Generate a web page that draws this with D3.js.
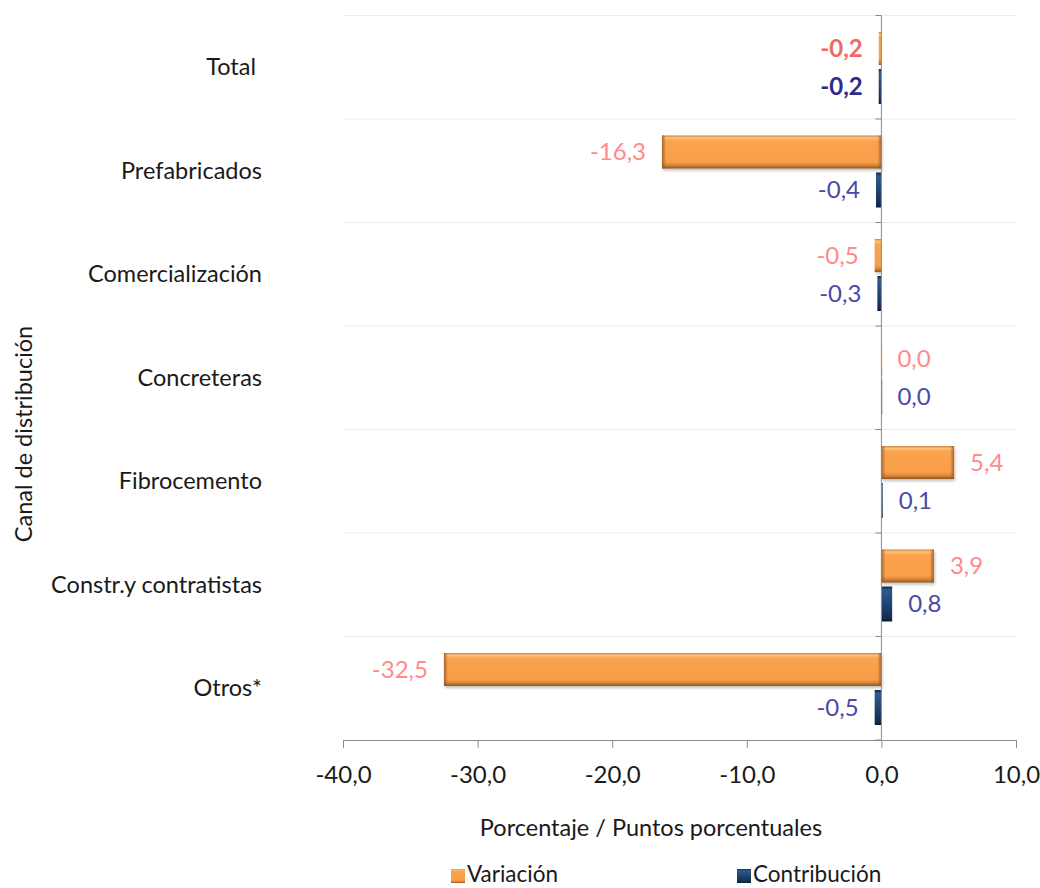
<!DOCTYPE html>
<html><head><meta charset="utf-8">
<script src="https://cdn.jsdelivr.net/npm/d3@7/dist/d3.min.js"></script>
<style>body{margin:0;background:#fff}svg{display:block}text{font-family:Lato,"Open Sans",sans-serif}</style>
</head><body>
<svg id="c" width="1040" height="888"></svg>
<script>
const categories = ["Total ", "Prefabricados", "Comercialización", "Concreteras", "Fibrocemento", "Constr.y contratistas", "Otros*"];
const variacion = [-0.2, -16.3, -0.5, 0.0, 5.4, 3.9, -32.5];
const contribucion = [-0.2, -0.4, -0.3, 0.0, 0.1, 0.8, -0.5];
const xTicks = [-40, -30, -20, -10, 0, 10];
const seriesNames = ["Variación", "Contribución"];

const svg = d3.select("#c");
const L = 343, R = 1016, T = 15.5, B = 740;
const FS = 23.5, NS = 24;
const x = d3.scaleLinear().domain([-40, 10]).range([L, R]);
const y = d3.scaleBand().domain(categories).range([T, B]);
const fmt = v => d3.format(".1f")(v).replace(".", ",").replace("−", "-");

const defs = svg.append("defs");
function grad(id, stops){
  const g = defs.append("linearGradient").attr("id", id).attr("x1",0).attr("y1",0).attr("x2",0).attr("y2",1);
  stops.forEach(s => g.append("stop").attr("offset", s[0]).attr("stop-color", s[1]));
}
grad("gOr", [[0,"#c9843f"],[0.07,"#ffc27a"],[0.16,"#fba34f"],[0.8,"#f99d48"],[0.9,"#d98636"],[1,"#8e5522"]]);
grad("gBl", [[0,"#0f2442"],[0.1,"#2e5a8c"],[0.5,"#1f4572"],[0.9,"#132c50"],[1,"#0a1a30"]]);
const hg = defs.append("linearGradient").attr("id","gEdge").attr("x1",0).attr("y1",0).attr("x2",1).attr("y2",0);
hg.append("stop").attr("offset",0).attr("stop-color","#8e5522").attr("stop-opacity",0.8);
hg.append("stop").attr("offset",1).attr("stop-color","#8e5522").attr("stop-opacity",0);
const f = defs.append("filter").attr("id","sh").attr("x","-5%").attr("y","-20%").attr("width","110%").attr("height","150%");
f.append("feDropShadow").attr("dx",1).attr("dy",2).attr("stdDeviation",1.5).attr("flood-color","#000").attr("flood-opacity",0.25);

const bounds = categories.map(c => y(c)).concat([B]);
svg.append("g").selectAll("line").data(bounds.slice(0, -1)).join("line")
  .attr("x1", L).attr("x2", R).attr("y1", d => d).attr("y2", d => d)
  .attr("stroke", "#ececec").attr("stroke-width", 1);

const bandH = y.bandwidth();
const vTop = 16.5, vH = 33, cTop = 53.5, cH = 35;

categories.forEach((c, i) => {
  const y0 = y(c);
  const v = variacion[i];
  const xv0 = Math.min(x(0), x(v)), wv = Math.abs(x(v) - x(0));
  svg.append("rect").attr("x", xv0).attr("y", y0 + vTop).attr("width", Math.max(wv, 0.8)).attr("height", vH)
    .attr("fill", "url(#gOr)").attr("filter", wv > 3 ? "url(#sh)" : null);
  if (wv > 8) {
    svg.append("rect").attr("x", xv0).attr("y", y0 + vTop).attr("width", 4).attr("height", vH).attr("fill", "url(#gEdge)");
    svg.append("rect").attr("x", xv0 + wv - 4).attr("y", y0 + vTop).attr("width", 4).attr("height", vH).attr("fill", "url(#gEdge)").attr("transform", `rotate(180 ${xv0 + wv - 2} ${y0 + vTop + vH/2})`);
  }
  const cv = contribucion[i];
  const xc0 = Math.min(x(0), x(cv)), wc = Math.abs(x(cv) - x(0));
  svg.append("rect").attr("x", xc0).attr("y", y0 + cTop).attr("width", Math.max(wc, 0.8)).attr("height", cH)
    .attr("fill", "url(#gBl)");
  const bold = i === 0;
  svg.append("text").attr("x", v < 0 ? x(v) - 16 : x(v) + 16).attr("y", y0 + vTop + vH/2).attr("dy", "0.35em")
    .attr("text-anchor", v < 0 ? "end" : "start").attr("font-size", NS)
    .attr("font-weight", bold ? "bold" : "normal")
    .attr("fill", bold ? "#f06a6a" : "#ff8a8a").text(fmt(v));
  svg.append("text").attr("x", cv < 0 ? x(cv) - 16 : x(cv) + 16).attr("y", y0 + cTop + cH/2).attr("dy", "0.35em")
    .attr("text-anchor", cv < 0 ? "end" : "start").attr("font-size", NS)
    .attr("font-weight", bold ? "bold" : "normal")
    .attr("fill", bold ? "#2c2c8c" : "#4a4aa8").text(fmt(cv));
});

svg.append("line").attr("x1", x(0)).attr("x2", x(0)).attr("y1", T).attr("y2", B).attr("stroke", "#8c8c8c");
svg.append("g").selectAll("line").data(bounds).join("line")
  .attr("x1", x(0) - 6).attr("x2", x(0)).attr("y1", d => d).attr("y2", d => d).attr("stroke", "#8c8c8c");

svg.append("g").selectAll("text").data(categories).join("text")
  .attr("x", 262).attr("y", d => y(d) + bandH / 2).attr("dy", "0.35em")
  .attr("text-anchor", "end").attr("font-size", FS).attr("fill", "#1a1a1a").style("white-space","pre")
  .text(d => d);

const xa = svg.append("g").attr("transform", `translate(0,${B})`)
  .call(d3.axisBottom(x).tickValues(xTicks).tickSize(8).tickFormat(fmt));
xa.select(".domain").attr("stroke", "#8c8c8c");
xa.selectAll(".tick line").attr("stroke", "#8c8c8c");
xa.selectAll(".tick text").attr("font-size", NS).attr("fill", "#1a1a1a").attr("y", 35).attr("dy", "0.35em").attr("font-family", "Lato,sans-serif");

svg.append("text").attr("x", 651).attr("y", 828).attr("dy", "0.35em").attr("text-anchor", "middle")
  .attr("font-size", FS).attr("fill", "#1a1a1a").text("Porcentaje / Puntos porcentuales");
svg.append("text").attr("transform", "translate(24,434) rotate(-90)").attr("dy", "0.35em").attr("text-anchor", "middle")
  .attr("font-size", FS).attr("fill", "#1a1a1a").text("Canal de distribución");

const leg = [{x: 451, fill: "url(#gOr)"}, {x: 737, fill: "url(#gBl)"}];
leg.forEach((l, i) => {
  svg.append("rect").attr("x", l.x).attr("y", 869).attr("width", 14).attr("height", 14).attr("fill", l.fill);
  svg.append("text").attr("x", l.x + 16).attr("y", 875).attr("dy", "0.32em").attr("font-size", 22.5).attr("fill", "#1a1a1a").text(seriesNames[i]);
});
</script>
</body></html>
